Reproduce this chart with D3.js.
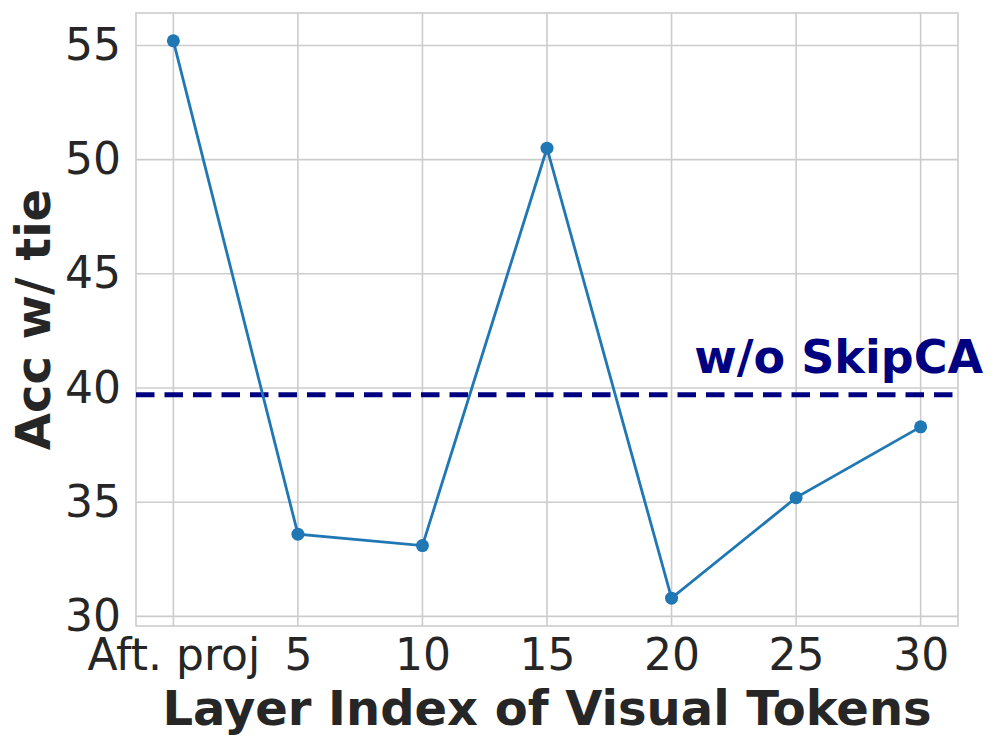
<!DOCTYPE html>
<html>
<head>
<meta charset="utf-8">
<script src="https://cdn.jsdelivr.net/npm/d3@7"></script>
<style>
  body { margin: 0; background: #fff; }
  svg text { font-family: "DejaVu Sans", sans-serif; fill: #262626; }
</style>
</head>
<body>
<svg></svg>
<script>
let categories = ["Aft. proj", "5", "10", "15", "20", "25", "30"];
let accValues = [55.2, 33.6, 33.1, 50.5, 30.8, 35.2, 38.3];
let baselineValue = 39.7;
let baselineLabel = "w/o SkipCA";
let yTicks = [30, 35, 40, 45, 50, 55];

let width = 997;
let height = 749;
let plotLeft = 136, plotRight = 958, plotTop = 13, plotBottom = 626;

let svg = d3.select("svg").attr("width", width).attr("height", height);

// matplotlib style 5% margins
let xScale = d3.scaleLinear()
    .domain([-0.3, categories.length - 1 + 0.3])
    .range([plotLeft, plotRight]);

let yMin = d3.min(accValues), yMax = d3.max(accValues);
let pad = (yMax - yMin) * 0.05;
let yScale = d3.scaleLinear()
    .domain([yMin - pad, yMax + pad])
    .range([plotBottom, plotTop]);

// grid
svg.append("g")
   .selectAll("line")
   .data(yTicks)
   .enter()
   .append("line")
   .attr("x1", plotLeft).attr("x2", plotRight)
   .attr("y1", d => yScale(d)).attr("y2", d => yScale(d))
   .attr("stroke", "#cccccc").attr("stroke-width", 1.6);

svg.append("g")
   .selectAll("line")
   .data(categories)
   .enter()
   .append("line")
   .attr("x1", (d, i) => xScale(i)).attr("x2", (d, i) => xScale(i))
   .attr("y1", plotTop).attr("y2", plotBottom)
   .attr("stroke", "#cccccc").attr("stroke-width", 1.6);

// frame
svg.append("rect")
   .attr("x", plotLeft).attr("y", plotTop)
   .attr("width", plotRight - plotLeft).attr("height", plotBottom - plotTop)
   .attr("fill", "none").attr("stroke", "#cccccc").attr("stroke-width", 1.6);

// axes (ticks hidden, labels only)
let xAxis = d3.axisBottom(xScale)
    .tickValues(d3.range(categories.length))
    .tickFormat(i => categories[i])
    .tickSize(0).tickPadding(13);

let gx = svg.append("g")
   .attr("transform", `translate(0, ${plotBottom})`)
   .call(xAxis);
gx.select(".domain").remove();
gx.selectAll("text").attr("font-size", 44).attr("fill", "#262626")
  .attr("font-family", "DejaVu Sans");

let yAxis = d3.axisLeft(yScale)
    .tickValues(yTicks)
    .tickSize(0).tickPadding(15);

let gy = svg.append("g")
   .attr("transform", `translate(${plotLeft}, 0)`)
   .call(yAxis);
gy.select(".domain").remove();
gy.selectAll("text").attr("font-size", 44).attr("fill", "#262626")
  .attr("font-family", "DejaVu Sans");

// baseline
svg.append("line")
   .attr("x1", plotLeft).attr("x2", plotRight)
   .attr("y1", yScale(baselineValue)).attr("y2", yScale(baselineValue))
   .attr("stroke", "#000080").attr("stroke-width", 5)
   .attr("stroke-dasharray", "18.5 10");

svg.append("text")
   .attr("x", 983).attr("y", yScale(baselineValue) - 22)
   .attr("text-anchor", "end")
   .attr("font-size", 46).attr("font-weight", "bold")
   .style("fill", "#000080")
   .text(baselineLabel);

// series
let line = d3.line()
    .x((d, i) => xScale(i))
    .y(d => yScale(d));

svg.append("path")
   .datum(accValues)
   .attr("d", line)
   .attr("fill", "none")
   .attr("stroke", "#1f77b4")
   .attr("stroke-width", 2.8);

svg.selectAll("circle")
   .data(accValues)
   .enter()
   .append("circle")
   .attr("cx", (d, i) => xScale(i))
   .attr("cy", d => yScale(d))
   .attr("r", 6.5)
   .attr("fill", "#1f77b4");

// axis titles
svg.append("text")
   .attr("x", (plotLeft + plotRight) / 2).attr("y", 725)
   .attr("text-anchor", "middle")
   .attr("font-size", 48).attr("font-weight", "bold")
   .text("Layer Index of Visual Tokens");

svg.append("text")
   .attr("transform", `translate(50, ${(plotTop + plotBottom) / 2}) rotate(-90)`)
   .attr("text-anchor", "middle")
   .attr("font-size", 48).attr("font-weight", "bold")
   .text("Acc w/ tie");
</script>
</body>
</html>
